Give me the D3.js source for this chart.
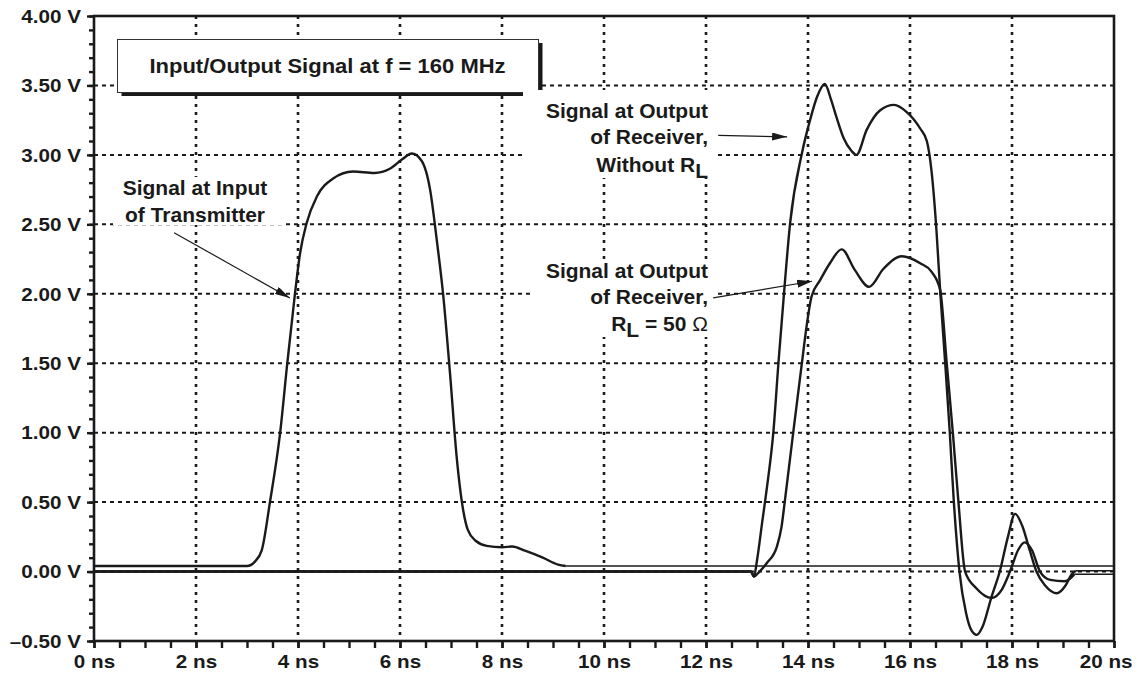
<!DOCTYPE html>
<html>
<head>
<meta charset="utf-8">
<script src="https://cdn.jsdelivr.net/npm/d3@7/dist/d3.min.js"></script>
<style>
  body { margin: 0; background: #fff; }
  text { font-family: "Liberation Sans", Arial, Helvetica, sans-serif; font-weight: bold; fill: #1a1a1a; }
</style>
</head>
<body>
<svg id="chart" width="1139" height="674"></svg>
<script>
// axis ticks and labels
const xTicks = [0, 2, 4, 6, 8, 10, 12, 14, 16, 18, 20];
const xLabels = ["0 ns", "2 ns", "4 ns", "6 ns", "8 ns", "10 ns", "12 ns", "14 ns", "16 ns", "18 ns", "20 ns"];
const yTicks = [-0.5, 0, 0.5, 1, 1.5, 2, 2.5, 3, 3.5, 4];
const yLabels = ["\u20130.50 V", "0.00 V", "0.50 V", "1.00 V", "1.50 V", "2.00 V", "2.50 V", "3.00 V", "3.50 V", "4.00 V"];

// signal at input of transmitter (ns, V)
const inTime = [0, 3.0, 3.15, 3.29, 3.45, 3.65, 3.79, 3.94, 4.04, 4.17, 4.37, 4.69, 5.08, 5.5, 5.8, 6.05, 6.23, 6.42, 6.59, 6.72, 6.85, 6.98, 7.11, 7.24, 7.33, 7.49, 7.7, 8.0, 8.2, 8.45, 8.8, 9.1, 9.25, 20];
const inVolt = [0.04, 0.04, 0.07, 0.155, 0.5, 1.0, 1.5, 2.0, 2.29, 2.51, 2.7, 2.83, 2.88, 2.87, 2.9, 2.97, 3.01, 2.96, 2.75, 2.39, 1.98, 1.43, 0.83, 0.44, 0.3, 0.22, 0.185, 0.175, 0.18, 0.15, 0.1, 0.05, 0.04, 0.04];

// signal at output of receiver, without RL
const openTime = [0, 12.88, 12.94, 13.0, 13.1, 13.2, 13.32, 13.42, 13.52, 13.65, 13.88, 14.04, 14.18, 14.33, 14.45, 14.56, 14.7, 14.85, 14.95, 15.15, 15.41, 15.69, 15.93, 16.2, 16.33, 16.42, 16.52, 16.59, 16.69, 16.78, 16.86, 16.97, 17.1, 17.2, 17.31, 17.42, 17.6, 17.76, 17.92, 18.06, 18.2, 18.35, 18.48, 18.65, 18.88, 19.05, 19.17, 19.25, 20];
const openVolt = [0, 0, -0.036, 0.08, 0.35, 0.62, 1.0, 1.5, 1.96, 2.51, 3.01, 3.25, 3.42, 3.51, 3.4, 3.27, 3.12, 3.03, 3.0, 3.18, 3.32, 3.36, 3.31, 3.19, 3.1, 2.89, 2.45, 2.03, 1.5, 1.0, 0.5, 0.0, -0.3, -0.42, -0.456, -0.4, -0.18, 0.0, 0.25, 0.415, 0.33, 0.15, 0.0, -0.1, -0.156, -0.1, -0.02, 0.005, 0.005];

// signal at output of receiver, RL = 50 ohm
const loadTime = [0, 12.88, 12.94, 13.05, 13.19, 13.39, 13.48, 13.55, 13.71, 13.88, 13.97, 14.07, 14.24, 14.43, 14.66, 14.92, 15.2, 15.48, 15.84, 16.2, 16.42, 16.59, 16.72, 16.84, 16.95, 17.08, 17.3, 17.6, 17.8, 17.96, 18.12, 18.25, 18.39, 18.55, 18.75, 19.03, 19.14, 19.22, 20];
const loadVolt = [0, 0, -0.036, 0.0, 0.06, 0.18, 0.32, 0.52, 1.0, 1.5, 1.76, 1.98, 2.1, 2.22, 2.32, 2.17, 2.05, 2.18, 2.27, 2.22, 2.16, 2.03, 1.5, 1.0, 0.5, 0.0, -0.12, -0.19, -0.13, 0.0, 0.155, 0.21, 0.155, 0.0, -0.06, -0.07, -0.05, -0.02, -0.02];

const ink = "#1a1a1a";
const tickSX = 1.18;   // the original lettering is stretched sideways

const svg = d3.select("#chart");
const x = d3.scaleLinear().domain([0, 20]).range([94, 1114]);
const y = d3.scaleLinear().domain([-0.5, 4]).range([641, 16]);

// helper: stretched bold text
function label(parent, px, py, anchor, size, sx) {
  return parent.append("text")
    .attr("transform", `translate(${px},${py}) scale(${sx},1)`)
    .attr("text-anchor", anchor)
    .style("font-size", size + "px");
}

// grid
const grid = svg.append("g").attr("stroke", ink).attr("stroke-width", 2);
grid.selectAll(".gx")
  .data(xTicks.slice(1, -1))
  .enter().append("line")
  .attr("x1", d => x(d)).attr("x2", d => x(d))
  .attr("y1", y(4)).attr("y2", y(-0.5))
  .attr("stroke-width", 2.6)
  .attr("stroke-dasharray", "3,5");
grid.selectAll(".gy")
  .data(yTicks.slice(1, -1))
  .enter().append("line")
  .attr("x1", x(0)).attr("x2", x(20))
  .attr("y1", d => y(d)).attr("y2", d => y(d))
  .attr("stroke-dasharray", "4,4");

// title box with drop shadow
svg.append("rect").attr("x", 121.5).attr("y", 43).attr("width", 421).attr("height", 53).attr("fill", ink);
svg.append("rect").attr("x", 117.5).attr("y", 39.5).attr("width", 421).attr("height", 53)
  .attr("fill", "#fff").attr("stroke", "#333").attr("stroke-width", 1);

// white patches behind the annotations
const patches = [[113, 177, 169, 48], [523, 90, 194, 88], [530, 260, 187, 77]];
svg.selectAll(".patch").data(patches).enter().append("rect")
  .attr("x", d => d[0]).attr("y", d => d[1]).attr("width", d => d[2]).attr("height", d => d[3])
  .attr("fill", "#fff");

// curves: the flat tails after the pulses are drawn thinner, as in the original
const line = d3.line().x(d => x(d[0])).y(d => y(d[1])).curve(d3.curveMonotoneX);
function split(times, volts, cut) {
  const pts = d3.zip(times, volts);
  return [pts.filter(d => d[0] <= cut), pts.filter(d => d[0] >= cut)];
}
const [inMain, inTail] = split(inTime, inVolt, 9.25);
const [openMain, openTail] = split(openTime, openVolt, 19.25);
const [loadMain, loadTail] = split(loadTime, loadVolt, 19.22);

svg.selectAll(".sig").data([inMain, loadMain, openMain]).enter().append("path")
  .attr("d", line)
  .attr("fill", "none")
  .attr("stroke", ink)
  .attr("stroke-width", 2.4)
  .attr("stroke-linejoin", "round");
svg.selectAll(".tail").data([inTail, loadTail, openTail]).enter().append("path")
  .attr("d", line)
  .attr("fill", "none")
  .attr("stroke", ink)
  .attr("stroke-width", 1.5);

// axes
const yMinor = d3.range(-5, 41).map(d => d / 10);
const xMinor = d3.range(0, 41).map(d => d / 2);

svg.append("g").attr("transform", `translate(${x(0)},0)`)
  .call(d3.axisLeft(y).tickValues(yMinor).tickSize(5).tickSizeOuter(0).tickFormat(""))
  .call(g => g.select(".domain").remove())
  .call(g => g.selectAll("line").attr("stroke", ink).attr("stroke-width", 2.4));

const yAxis = svg.append("g").attr("transform", `translate(${x(0)},0)`)
  .call(d3.axisLeft(y).tickValues(yTicks).tickSize(7).tickSizeOuter(0).tickFormat((d, i) => yLabels[i]))
  .call(g => g.select(".domain").remove())
  .call(g => g.selectAll("line").attr("stroke", ink).attr("stroke-width", 2.4));
yAxis.selectAll("text")
  .attr("x", -13 / tickSX).attr("dy", "0.36em")
  .attr("transform", `scale(${tickSX},1)`)
  .attr("font-family", null).attr("font-size", null).attr("fill", null)
  .style("font-size", "17.5px");

svg.append("g").attr("transform", `translate(0,${y(-0.5)})`)
  .call(d3.axisBottom(x).tickValues(xMinor).tickSize(7).tickSizeOuter(0).tickFormat(""))
  .call(g => g.select(".domain").remove())
  .call(g => g.selectAll("line").attr("stroke", ink).attr("stroke-width", 2.4));

const xAxis = svg.append("g").attr("transform", `translate(0,${y(-0.5)})`)
  .call(d3.axisBottom(x).tickValues(xTicks).tickSize(7).tickSizeOuter(0).tickPadding(8).tickFormat((d, i) => xLabels[i]))
  .call(g => g.select(".domain").remove())
  .call(g => g.selectAll("line").attr("stroke", ink).attr("stroke-width", 2.4));
xAxis.selectAll("text")
  .attr("transform", `scale(${tickSX},1)`)
  .attr("font-family", null).attr("font-size", null).attr("fill", null)
  .style("font-size", "17.5px");
// keep the last label inside the picture
xAxis.selectAll("text").filter(d => d === 20).attr("text-anchor", "end").attr("x", 18 / tickSX);

// frame
svg.append("rect")
  .attr("x", x(0)).attr("y", y(4))
  .attr("width", x(20) - x(0)).attr("height", y(-0.5) - y(4))
  .attr("fill", "none").attr("stroke", ink).attr("stroke-width", 2.6);

// title
label(svg, 327.5, 73, "middle", 20, 1.1).text("Input/Output Signal at f = 160 MHz");

// annotations
const AS = 20, ASX = 1.05;
label(svg, 195, 194.5, "middle", AS, ASX).text("Signal at Input");
label(svg, 195, 221.7, "middle", AS, ASX).text("of Transmitter");

label(svg, 708, 117.7, "end", AS, ASX).text("Signal at Output");
label(svg, 708, 144, "end", AS, ASX).text("of Receiver,");
const t2 = label(svg, 708, 171.7, "end", AS, ASX);
t2.append("tspan").text("Without R");
t2.append("tspan").attr("dy", 6.5).text("L");

label(svg, 708, 277.7, "end", AS, ASX).text("Signal at Output");
label(svg, 708, 304, "end", AS, ASX).text("of Receiver,");
const t3 = label(svg, 708, 330.7, "end", AS, ASX);
t3.append("tspan").text("R");
t3.append("tspan").attr("dy", 6).text("L");
t3.append("tspan").attr("dy", -6).text(" = 50 ");
t3.append("tspan").style("font-weight", "normal").text("\u03A9");

// arrows
svg.append("defs").append("marker")
  .attr("id", "head")
  .attr("viewBox", "0 0 15 8")
  .attr("refX", 15).attr("refY", 4)
  .attr("markerWidth", 15).attr("markerHeight", 8)
  .attr("markerUnits", "userSpaceOnUse")
  .attr("orient", "auto")
  .append("path").attr("d", "M0,0 L15,4 L0,8 Z").attr("fill", ink);

const arrows = [
  [[1.57, 2.44], [3.84, 1.97]],
  [[12.24, 3.14], [13.59, 3.13]],
  [[12.14, 1.97], [14.08, 2.09]]
];
svg.selectAll(".arrow").data(arrows).enter().append("line")
  .attr("x1", d => x(d[0][0])).attr("y1", d => y(d[0][1]))
  .attr("x2", d => x(d[1][0])).attr("y2", d => y(d[1][1]))
  .attr("stroke", ink).attr("stroke-width", 1.2)
  .attr("marker-end", "url(#head)");
</script>
</body>
</html>
